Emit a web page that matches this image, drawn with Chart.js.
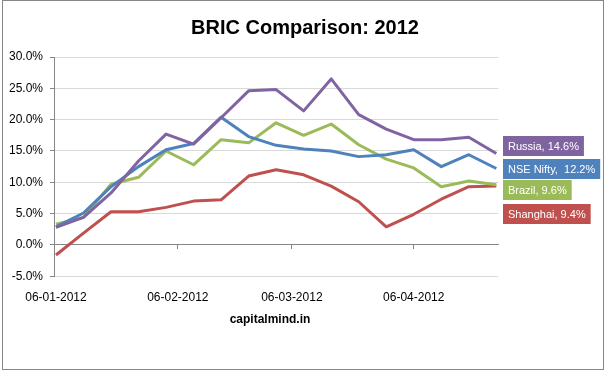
<!DOCTYPE html>
<html><head><meta charset="utf-8">
<script src="https://cdn.jsdelivr.net/npm/chart.js@4.4.0/dist/chart.umd.min.js"></script>
<style>html,body{margin:0;padding:0;background:#fff}canvas{display:block}</style>
</head><body>
<canvas id="c" width="610" height="376"></canvas>
<script>
// ---- data ----
const dates = ['06-01-2012','13-01-2012','20-01-2012','27-01-2012','03-02-2012','10-02-2012','17-02-2012','24-02-2012',
  '02-03-2012','09-03-2012','16-03-2012','23-03-2012','30-03-2012','06-04-2012','13-04-2012','20-04-2012','27-04-2012'];
const seriesNames = ['Russia', 'NSE Nifty', 'Brazil', 'Shanghai'];
const russia   = [2.8, 4.4, 8.3, 13.4, 17.7, 16.1, 20.3, 24.6, 24.8, 21.4, 26.5, 20.8, 18.5, 16.8, 16.8, 17.2, 14.6];
const nifty    = [2.9, 5.1, 9.3, 12.5, 15.2, 16.2, 20.4, 17.3, 15.9, 15.3, 15.0, 14.1, 14.4, 15.2, 12.5, 14.4, 12.2];
const brazil   = [3.3, 4.4, 9.7, 10.8, 15.0, 12.8, 16.8, 16.3, 19.5, 17.5, 19.3, 16.0, 13.7, 12.3, 9.3, 10.2, 9.6];
const shanghai = [-1.6, 1.9, 5.3, 5.3, 6.0, 7.0, 7.2, 11.0, 12.0, 11.2, 9.4, 6.9, 2.9, 4.9, 7.3, 9.3, 9.4];
const xTickLabels = ['06-01-2012', '06-02-2012', '06-03-2012', '06-04-2012'];
const yMin = -5, yMax = 30, yStep = 5;
const titleText = 'BRIC Comparison: 2012';
const sourceText = 'capitalmind.in';

// ---- helpers ----
function dayNum(s) { const [d, m, y] = s.split('-').map(Number); return Date.UTC(y, m - 1, d) / 864e5; }
const base = dayNum(dates[0]);
const xs = dates.map(d => dayNum(d) - base);
const xTickDays = xTickLabels.map(d => dayNum(d) - base);
const toPts = arr => arr.map((v, i) => ({ x: xs[i], y: v }));
const colors = ['#8064A2', '#4F81BD', '#9BBB59', '#C0504D'];
const series = [russia, nifty, brazil, shanghai];
const labelSeps = [' ', '  ', ' ', ' '];
const FONT = '"Liberation Sans", Arial, sans-serif';

const frame = {
  id: 'frame',
  beforeDraw(chart) {
    const c = chart.ctx; c.save();
    c.fillStyle = '#fff'; c.fillRect(0, 0, chart.width, chart.height);
    c.restore();
  },
  afterDraw(chart) {
    const c = chart.ctx; c.save();
    c.strokeStyle = '#868686'; c.lineWidth = 1;
    c.strokeRect(2.5, 0.5, 601, 369);
    c.fillStyle = '#000'; c.textAlign = 'center'; c.textBaseline = 'alphabetic';
    c.font = 'bold 20px ' + FONT;
    c.fillText(titleText, 305, 34);
    c.font = 'bold 12px ' + FONT;
    c.fillText(sourceText, 270, 323);
    c.restore();
  }
};

const endLabels = {
  id: 'endLabels',
  afterDatasetsDraw(chart, args, opts) {
    const c = chart.ctx; c.save();
    c.font = '11px ' + FONT; c.textBaseline = 'middle'; c.textAlign = 'left';
    chart.data.datasets.forEach((ds, i) => {
      const last = ds.data[ds.data.length - 1].y;
      const txt = ds.label + ',' + labelSeps[i] + last.toFixed(1) + '%';
      const w = c.measureText(txt).width + 10;
      const top = opts.tops[i];
      c.fillStyle = ds.borderColor;
      c.fillRect(opts.left, top, w, 20);
      c.fillStyle = '#fff';
      c.fillText(txt, opts.left + 5, top + 10.5);
    });
    c.restore();
  }
};

new Chart(document.getElementById('c'), {
  type: 'line',
  data: {
    datasets: series.map((s, i) => ({
      label: seriesNames[i], data: toPts(s), borderColor: colors[i], backgroundColor: colors[i],
      borderWidth: 3, pointRadius: 0, tension: 0, borderJoinStyle: 'round', fill: false
    }))
  },
  options: {
    responsive: false, animation: false, devicePixelRatio: 1,
    layout: { padding: { top: 57, left: 0, right: 111.7, bottom: 59.7 } },
    plugins: {
      legend: { display: false }, title: { display: false }, tooltip: { enabled: false },
      endLabels: { left: 503, tops: [136, 159, 180, 204] }
    },
    scales: {
      x: {
        type: 'linear', position: 'bottom', min: -0.5, max: 112.5,
        grid: { display: false }, border: { display: false },
        afterBuildTicks: s => { s.ticks = xTickDays.map(v => ({ value: v })); },
        afterFit: s => { s.height = 40; },
        ticks: { autoSkip: false, maxRotation: 0, padding: 6, color: '#000',
          font: { family: FONT, size: 12 }, callback: (v, i) => xTickLabels[i] }
      },
      x2: {
        type: 'linear', axis: 'x', position: { y: 0 }, min: -0.5, max: 112.5,
        grid: { drawOnChartArea: false, drawTicks: true, tickLength: 4, tickColor: '#868686', color: '#868686' },
        border: { display: true, color: '#868686', width: 1 },
        afterBuildTicks: s => { s.ticks = xTickDays.slice(1).map(v => ({ value: v })); },
        ticks: { display: false }
      },
      y: {
        min: yMin, max: yMax,
        afterFit: s => { s.width = 54; },
        grid: { color: ctx => (ctx.tick && ctx.tick.value === 0) ? '#868686' : '#D9D9D9',
          tickColor: '#868686', tickLength: 4, drawTicks: true },
        border: { display: true, color: '#868686', width: 1 },
        ticks: { stepSize: yStep, padding: 7, color: '#000', font: { family: FONT, size: 12 },
          callback: v => v.toFixed(1) + '%' }
      }
    }
  },
  plugins: [frame, endLabels]
});
</script>
</body></html>
